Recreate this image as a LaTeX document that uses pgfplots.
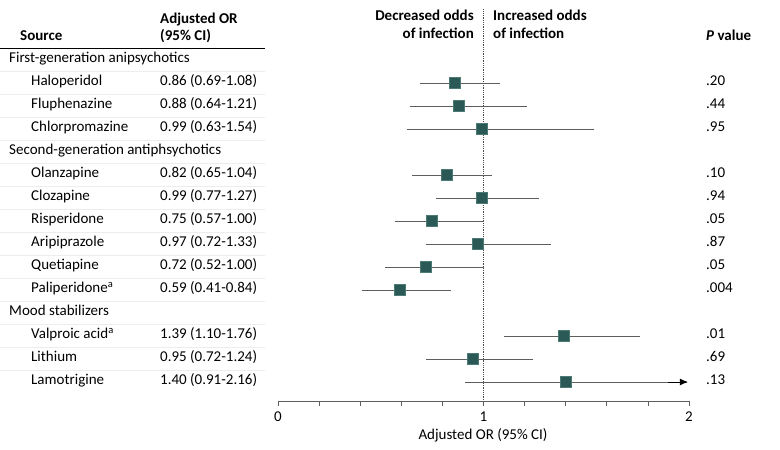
\documentclass[border=0pt]{standalone}
\usepackage{fontspec}
\setmainfont{Carlito}
\usepackage{pgfplots}
\pgfplotsset{compat=1.18}
\usepackage{pgfplotstable}
\usetikzlibrary{arrows.meta}

\definecolor{sq}{HTML}{2B5A56}
\definecolor{sqedge}{HTML}{4C7B76}
\definecolor{ci}{HTML}{5E5E5E}

% row index, adjusted OR, lower and upper 95% CI
\pgfplotstableread{
row or lo hi
2 0.86 0.69 1.08
3 0.88 0.64 1.21
4 0.99 0.63 1.54
6 0.82 0.65 1.04
7 0.99 0.77 1.27
8 0.75 0.57 1.00
9 0.97 0.72 1.33
10 0.72 0.52 1.00
11 0.59 0.41 0.84
13 1.39 1.10 1.76
14 0.95 0.72 1.24
15 1.40 0.91 2.16
}\ortable

\newcommand\fs{\fontsize{15bp}{18bp}\selectfont}
% row r sits at 60 + 23*(r-1) px from the top; axis line at 401 px

\begin{document}
\begin{tikzpicture}
\useasboundingbox (0,0) rectangle (780bp,450bp);
\begin{axis}[
  at={(278bp,49bp)}, anchor=south west,
  scale only axis, width=411bp, height=401bp,
  xmin=0, xmax=2, ymin=-1.6087, ymax=15.8261,
  y dir=reverse,
  axis x line*=bottom, axis y line=none,
  x axis line style={ci, line width=0.8bp},
  xtick={0,1,2},
  minor xtick={0.2,0.4,0.6,0.8,1.2,1.4,1.6,1.8},
  tick align=outside,
  major tick length=5bp, minor tick length=5bp,
  tick style={ci, line width=0.8bp},
  ytick=\empty,
  xticklabel style={font=\fs, yshift=-2bp},
  /pgf/number format/assume math mode=true,
  clip=false,
]
% reference line at OR = 1
\addplot[densely dotted, black!70, line width=0.8bp] coordinates {(1,-1.2) (1,15.8261)};
% confidence intervals and point estimates
\addplot[only marks, mark=square*, mark size=5.5bp,
  mark options={fill=sq, draw=sqedge, line width=0.5bp},
  error bars/.cd, x dir=both, x explicit,
  error mark=none,
  error bar style={ci, line width=1bp}]
  table[x=or, y=row,
    x error plus expr={min(\thisrow{hi},1.99)-\thisrow{or}},
    x error minus expr={\thisrow{or}-\thisrow{lo}}] {\ortable};
% upper bound beyond the axis
\addplot[ci, line width=1bp, -{Latex[length=8bp,width=7bp]}, black] coordinates {(1.90,15) (1.995,15)};
\end{axis}

\begin{scope}[x=1bp, y=-1bp, shift={(0,450bp)}, every node/.style={font=\fs, inner sep=0pt}]
% header
\node[anchor=mid west, font=\fs\bfseries] at (20,38) {Source};
\node[anchor=mid west, font=\fs\bfseries] at (160,21) {Adjusted OR};
\node[anchor=mid west, font=\fs\bfseries] at (160,38) {(95\% CI)};
\draw[black, line width=1bp] (0,49) -- (265,49);
\node[anchor=mid east, font=\fs\bfseries] at (474,18) {Decreased odds};
\node[anchor=mid east, font=\fs\bfseries] at (474,36) {of infection};
\node[anchor=mid west, font=\fs\bfseries] at (493,18) {Increased odds};
\node[anchor=mid west, font=\fs\bfseries] at (493,36) {of infection};
\node[anchor=mid west, font=\fs\bfseries] at (706,38) {\textit{P} value};
% faint row separators
\foreach \r in {1,...,14} {
  \draw[black!7, line width=0.6bp] (0,{60+23*\r-11.5}) -- (265,{60+23*\r-11.5});
}
% rows
\foreach \r/\name in {
  1/First-generation anipsychotics,
  5/Second-generation antiphsychotics,
  12/Mood stabilizers} {
  \node[anchor=mid west] at (9,{60+23*(\r-1)}) {\name};
}
\foreach \r/\name/\orci/\p in {
  2/Haloperidol/0.86 (0.69-1.08)/.20,
  3/Fluphenazine/0.88 (0.64-1.21)/.44,
  4/Chlorpromazine/0.99 (0.63-1.54)/.95,
  6/Olanzapine/0.82 (0.65-1.04)/.10,
  7/Clozapine/0.99 (0.77-1.27)/.94,
  8/Risperidone/0.75 (0.57-1.00)/.05,
  9/Aripiprazole/0.97 (0.72-1.33)/.87,
  10/Quetiapine/0.72 (0.52-1.00)/.05,
  11/Paliperidone\textsuperscript{a}/0.59 (0.41-0.84)/.004,
  13/Valproic acid\textsuperscript{a}/1.39 (1.10-1.76)/.01,
  14/Lithium/0.95 (0.72-1.24)/.69,
  15/Lamotrigine/1.40 (0.91-2.16)/.13} {
  \node[anchor=mid west] at (31,{60+23*(\r-1)}) {\name};
  \node[anchor=mid west] at (160,{60+23*(\r-1)}) {\orci};
  \node[anchor=mid west] at (706,{60+23*(\r-1)}) {\p};
}
\node[anchor=mid] at (483,437) {Adjusted OR (95\% CI)};
\end{scope}
\end{tikzpicture}
\end{document}
